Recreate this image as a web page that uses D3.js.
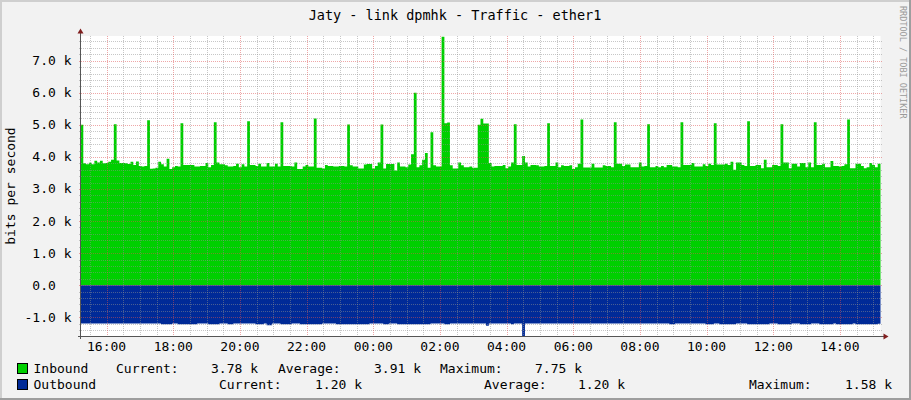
<!DOCTYPE html>
<html>
<head>
<meta charset="utf-8">
<script src="https://cdn.jsdelivr.net/npm/d3@7"></script>
<style>
  html, body { margin: 0; padding: 0; background: #f2f2f2; }
  svg { display: block; }
  text { font-family: "DejaVu Sans Mono", monospace; white-space: pre; }
</style>
</head>
<body>
<script>
const title = 'Jaty - link dpmhk - Traffic - ether1';
const yAxisTitle = 'bits per second';
const watermark = 'RRDTOOL / TOBI OETIKER';

// 5 minute samples over 24h, starting 15:13
const startTime = new Date(2024, 0, 1, 15, 13, 0);
const stepMinutes = 5;

// inbound, k bits per second (one row = one hour)
const inbound = [
  5.00, 3.80, 3.77, 3.82, 3.77, 3.88, 3.83, 3.88, 3.80, 3.81, 3.85, 3.91,
  5.02, 3.89, 3.81, 3.81, 3.80, 3.78, 3.85, 3.75, 3.86, 3.72, 3.70, 3.72,
  5.14, 3.63, 3.64, 3.66, 3.85, 3.77, 3.70, 3.94, 3.62, 3.68, 3.72, 3.70,
  5.05, 3.75, 3.75, 3.75, 3.75, 3.70, 3.70, 3.72, 3.72, 3.81, 3.68, 3.75,
  5.08, 3.83, 3.77, 3.77, 3.74, 3.70, 3.70, 3.72, 3.79, 3.68, 3.77, 3.70,
  5.11, 3.75, 3.75, 3.72, 3.79, 3.70, 3.70, 3.81, 3.70, 3.70, 3.79, 3.70,
  5.08, 3.72, 3.72, 3.72, 3.70, 3.83, 3.62, 3.62, 3.70, 3.75, 3.70, 3.70,
  5.20, 3.66, 3.66, 3.64, 3.75, 3.72, 3.72, 3.70, 3.70, 3.72, 3.72, 3.70,
  5.01, 3.74, 3.70, 3.70, 3.64, 3.64, 3.76, 3.78, 3.78, 3.64, 3.72, 3.83,
  5.01, 3.64, 3.78, 3.78, 3.78, 3.58, 3.83, 3.70, 3.70, 3.68, 3.76, 4.08,
  6.00, 3.68, 3.74, 3.91, 4.12, 3.66, 4.77, 3.74, 3.70, 3.70, 7.75, 5.05,
  5.07, 3.74, 3.64, 3.64, 3.83, 3.74, 3.68, 3.68, 3.70, 3.66, 3.66, 5.00,
  5.19, 5.04, 5.04, 3.81, 3.70, 3.72, 3.72, 3.72, 3.75, 3.65, 3.70, 3.83,
  5.02, 3.75, 3.75, 4.03, 3.83, 3.70, 3.75, 3.75, 3.74, 3.70, 3.70, 3.72,
  5.05, 3.72, 3.72, 3.83, 3.68, 3.74, 3.72, 3.72, 3.74, 3.62, 3.68, 3.79,
  5.17, 3.67, 3.67, 3.67, 3.79, 3.67, 3.67, 3.67, 3.74, 3.72, 3.72, 3.68,
  5.08, 3.79, 3.79, 3.72, 3.76, 3.76, 3.68, 3.68, 3.68, 3.83, 3.70, 3.72,
  5.02, 3.68, 3.68, 3.72, 3.68, 3.72, 3.68, 3.75, 3.75, 3.70, 3.70, 3.68,
  5.08, 3.75, 3.75, 3.75, 3.81, 3.70, 3.70, 3.70, 3.77, 3.72, 3.79, 3.75,
  5.05, 3.76, 3.76, 3.76, 3.79, 3.75, 3.85, 3.60, 3.83, 3.83, 3.75, 3.72,
  5.11, 3.72, 3.72, 3.75, 3.75, 3.65, 3.91, 3.68, 3.68, 3.75, 3.75, 3.72,
  5.02, 3.83, 3.83, 3.65, 3.79, 3.79, 3.70, 3.81, 3.81, 3.68, 3.83, 3.68,
  5.08, 3.75, 3.75, 3.79, 3.68, 3.68, 3.87, 3.72, 3.72, 3.70, 3.72, 3.77,
  5.17, 3.65, 3.65, 3.79, 3.79, 3.72, 3.65, 3.68, 3.81, 3.75, 3.68, 3.79
];

// outbound, k bits per second (drawn below zero)
const outbound = [
  1.19, 1.19, 1.19, 1.19, 1.19, 1.19, 1.19, 1.19, 1.19, 1.19, 1.19, 1.19,
  1.19, 1.19, 1.19, 1.19, 1.19, 1.19, 1.19, 1.19, 1.19, 1.19, 1.19, 1.19,
  1.19, 1.19, 1.19, 1.19, 1.19, 1.22, 1.22, 1.22, 1.22, 1.19, 1.19, 1.22,
  1.22, 1.22, 1.22, 1.22, 1.22, 1.22, 1.19, 1.19, 1.19, 1.19, 1.22, 1.22,
  1.22, 1.22, 1.19, 1.19, 1.19, 1.22, 1.22, 1.19, 1.19, 1.19, 1.19, 1.19,
  1.19, 1.19, 1.19, 1.22, 1.22, 1.22, 1.19, 1.25, 1.25, 1.19, 1.19, 1.19,
  1.22, 1.22, 1.22, 1.22, 1.19, 1.19, 1.19, 1.22, 1.22, 1.22, 1.22, 1.22,
  1.22, 1.22, 1.22, 1.19, 1.19, 1.19, 1.19, 1.19, 1.22, 1.22, 1.22, 1.22,
  1.22, 1.22, 1.22, 1.22, 1.22, 1.22, 1.22, 1.22, 1.19, 1.19, 1.19, 1.19,
  1.19, 1.22, 1.22, 1.19, 1.19, 1.19, 1.22, 1.22, 1.22, 1.22, 1.22, 1.22,
  1.22, 1.22, 1.22, 1.22, 1.22, 1.22, 1.19, 1.19, 1.19, 1.19, 1.19, 1.22,
  1.22, 1.19, 1.19, 1.19, 1.19, 1.19, 1.19, 1.19, 1.19, 1.19, 1.19, 1.19,
  1.19, 1.19, 1.26, 1.19, 1.19, 1.19, 1.19, 1.19, 1.19, 1.19, 1.19, 1.22,
  1.19, 1.19, 1.19, 1.58, 1.19, 1.19, 1.19, 1.19, 1.19, 1.19, 1.19, 1.19,
  1.19, 1.19, 1.19, 1.19, 1.19, 1.19, 1.19, 1.19, 1.19, 1.19, 1.19, 1.19,
  1.19, 1.19, 1.19, 1.19, 1.19, 1.19, 1.19, 1.19, 1.19, 1.19, 1.19, 1.19,
  1.19, 1.19, 1.19, 1.19, 1.19, 1.19, 1.19, 1.19, 1.19, 1.19, 1.19, 1.19,
  1.19, 1.19, 1.19, 1.19, 1.19, 1.19, 1.19, 1.19, 1.22, 1.22, 1.19, 1.19,
  1.19, 1.19, 1.19, 1.19, 1.19, 1.19, 1.19, 1.19, 1.19, 1.22, 1.22, 1.22,
  1.19, 1.19, 1.22, 1.22, 1.22, 1.22, 1.22, 1.22, 1.19, 1.19, 1.19, 1.19,
  1.22, 1.22, 1.22, 1.22, 1.22, 1.22, 1.22, 1.22, 1.19, 1.19, 1.19, 1.22,
  1.22, 1.22, 1.22, 1.22, 1.19, 1.19, 1.19, 1.22, 1.22, 1.22, 1.22, 1.19,
  1.19, 1.19, 1.22, 1.22, 1.22, 1.22, 1.22, 1.19, 1.22, 1.22, 1.22, 1.22,
  1.22, 1.22, 1.19, 1.22, 1.22, 1.22, 1.22, 1.22, 1.22, 1.22, 1.22, 1.20
];

const yTicks = [-1, 0, 1, 2, 3, 4, 5, 6, 7];
const yTickLabels = ['-1.0 k', '0.0  ', '1.0 k', '2.0 k', '3.0 k', '4.0 k', '5.0 k', '6.0 k', '7.0 k'];
const xTickLabels = ['16:00', '18:00', '20:00', '22:00', '00:00', '02:00', '04:00', '06:00', '08:00', '10:00', '12:00', '14:00'];

const seriesNames = ['Inbound', 'Outbound'];
const seriesColors = ['#00cf00', '#002a97'];
const legendCurrent = ['3.78 k', '1.20 k'];
const legendAverage = ['3.91 k', '1.20 k'];
const legendMaximum = ['7.75 k', '1.58 k'];

const W = 911, H = 400;
const plot = { left: 80.5, right: 880.5, top: 36, bottom: 336 };
const GRID = 'rgba(143,143,143,0.5)';
const MGRID = 'rgba(222,79,79,0.5)';

function draw() {
  const svg = d3.select('body').append('svg')
      .attr('width', W)
      .attr('height', H);

  const endTime = d3.timeMinute.offset(startTime, stepMinutes * inbound.length);

  const x = d3.scaleTime()
      .domain([startTime, endTime])
      .range([plot.left, plot.right]);

  const y = d3.scaleLinear()
      .domain([-1.583, 7.77])
      .range([plot.bottom, plot.top]);

  // background + canvas
  svg.append('rect').attr('width', W).attr('height', H).attr('fill', '#f2f2f2');
  svg.append('rect')
      .attr('x', plot.left).attr('y', plot.top)
      .attr('width', plot.right - plot.left).attr('height', plot.bottom - plot.top)
      .attr('fill', '#fff');

  const toPoints = (vals, sign) => {
    const pts = vals.map((v, i) => ({ t: d3.timeMinute.offset(startTime, i * stepMinutes), v: sign * v }));
    pts.push({ t: endTime, v: sign * vals[vals.length - 1] });
    return pts;
  };

  const area = d3.area()
      .curve(d3.curveStepAfter)
      .x(d => x(d.t))
      .y0(y(0))
      .y1(d => y(d.v));

  svg.append('path')
      .attr('d', area(toPoints(inbound, 1)))
      .attr('fill', seriesColors[0]);

  svg.append('path')
      .attr('d', area(toPoints(outbound, -1)))
      .attr('fill', seriesColors[1]);

  // grid
  const g = svg.append('g').attr('shape-rendering', 'crispEdges');
  const px = v => Math.round(v) + 0.5;

  const minorY = d3.range(-7, 39).map(k => k / 5).filter(v => Math.abs(v - Math.round(v)) > 1e-6);
  const minorX = x.ticks(d3.timeMinute.every(30)).filter(t => t.getMinutes() !== 0 || t.getHours() % 2 !== 0);
  const majorX = x.ticks(d3.timeHour.every(2));

  g.selectAll('line.hminor').data(minorY).join('line')
      .attr('class', 'hminor')
      .attr('x1', plot.left - 2).attr('x2', plot.right + 2)
      .attr('y1', d => px(y(d))).attr('y2', d => px(y(d)))
      .attr('stroke', GRID).attr('stroke-dasharray', '1,1');

  g.selectAll('line.vminor').data(minorX).join('line')
      .attr('class', 'vminor')
      .attr('x1', d => px(x(d))).attr('x2', d => px(x(d)))
      .attr('y1', plot.top).attr('y2', plot.bottom + 2)
      .attr('stroke', GRID).attr('stroke-dasharray', '1,1');

  g.selectAll('line.hmajor').data(yTicks).join('line')
      .attr('class', 'hmajor')
      .attr('x1', plot.left - 2).attr('x2', plot.right + 2)
      .attr('y1', d => px(y(d))).attr('y2', d => px(y(d)))
      .attr('stroke', MGRID).attr('stroke-dasharray', '1,1');

  g.selectAll('line.vmajor').data(majorX).join('line')
      .attr('class', 'vmajor')
      .attr('x1', d => px(x(d))).attr('x2', d => px(x(d)))
      .attr('y1', plot.top).attr('y2', plot.bottom + 2)
      .attr('stroke', MGRID).attr('stroke-dasharray', '1,1');

  // axes with arrows
  g.append('line')
      .attr('x1', plot.left - 3).attr('x2', plot.right + 4)
      .attr('y1', plot.bottom + 0.5).attr('y2', plot.bottom + 0.5)
      .attr('stroke', '#555');
  g.append('line')
      .attr('x1', plot.left).attr('x2', plot.left)
      .attr('y1', plot.bottom + 3).attr('y2', plot.top - 4)
      .attr('stroke', '#555');

  svg.append('path')
      .attr('d', `M${plot.right + 3},${plot.bottom - 2.5}L${plot.right + 8},${plot.bottom + 0.5}L${plot.right + 3},${plot.bottom + 3.5}Z`)
      .attr('fill', '#801f1f');
  svg.append('path')
      .attr('d', `M${plot.left - 3},${plot.top - 2.5}L${plot.left},${plot.top - 7.5}L${plot.left + 3},${plot.top - 2.5}Z`)
      .attr('fill', '#801f1f');

  // tick labels
  svg.selectAll('text.ylab').data(yTicks).join('text')
      .attr('class', 'ylab')
      .attr('xml:space', 'preserve')
      .attr('x', 71.5)
      .attr('y', d => y(d) + 4.5)
      .attr('text-anchor', 'end')
      .style('font-size', '13px')
      .text((d, i) => yTickLabels[i]);

  svg.selectAll('text.xlab').data(majorX).join('text')
      .attr('class', 'xlab')
      .attr('x', d => x(d))
      .attr('y', 351)
      .attr('text-anchor', 'middle')
      .style('font-size', '13px')
      .text((d, i) => xTickLabels[i]);

  // titles
  svg.append('text')
      .attr('x', 455).attr('y', 19.5)
      .attr('text-anchor', 'middle')
      .style('font-size', '13.5px')
      .text(title);

  svg.append('text')
      .attr('transform', 'translate(15,186) rotate(-90)')
      .attr('text-anchor', 'middle')
      .style('font-size', '13px')
      .text(yAxisTitle);

  svg.append('text')
      .attr('transform', 'translate(899.7,6) rotate(90)')
      .attr('fill', '#9a9a9a')
      .style('font-size', '8.5px')
      .text(watermark);

  // legend
  const rows = [
    { base: 373, cols: [116, 211, 278, 374, 440, 535] },
    { base: 389, cols: [219, 315, 484, 578, 749, 845] }
  ];
  rows.forEach((r, i) => {
    const lg = svg.append('g');
    lg.append('rect')
        .attr('x', 17.5).attr('y', r.base - 9.5)
        .attr('width', 10).attr('height', 10)
        .attr('fill', seriesColors[i])
        .attr('stroke', '#000');
    const items = [seriesNames[i], 'Current:', legendCurrent[i], 'Average:', legendAverage[i], 'Maximum:', legendMaximum[i]];
    const xs = [33.5].concat(r.cols);
    lg.selectAll('text').data(items).join('text')
        .attr('x', (d, j) => xs[j])
        .attr('y', r.base)
        .style('font-size', '13px')
        .text(d => d);
  });

  // 3d frame
  svg.append('rect').attr('x', 0).attr('y', 0).attr('width', W).attr('height', 2).attr('fill', '#cfcfcf');
  svg.append('rect').attr('x', 0).attr('y', 0).attr('width', 2).attr('height', H).attr('fill', '#cfcfcf');
  svg.append('rect').attr('x', 0).attr('y', H - 2).attr('width', W).attr('height', 2).attr('fill', '#9e9e9e');
  svg.append('rect').attr('x', W - 2).attr('y', 0).attr('width', 2).attr('height', H).attr('fill', '#9e9e9e');
}

draw();
</script>
</body>
</html>
